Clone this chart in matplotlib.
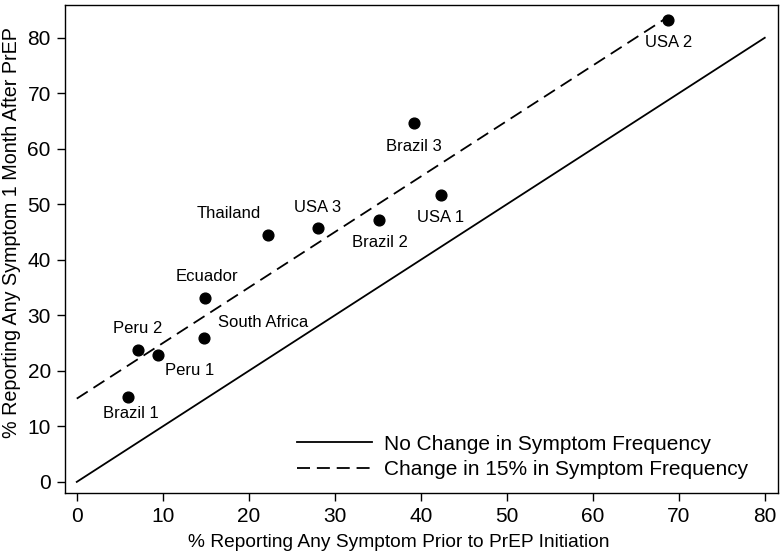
import matplotlib
matplotlib.use("Agg")
import matplotlib.pyplot as plt
import numpy as np

plt.rcParams['font.family'] = ['Liberation Sans', 'DejaVu Sans']

sites = ["Brazil 1", "Peru 2", "Peru 1", "South Africa", "Ecuador", "Thailand",
         "USA 3", "Brazil 2", "USA 1", "Brazil 3", "USA 2"]
prior = [6.0, 7.1, 9.4, 14.8, 14.9, 22.2, 28.0, 35.2, 42.3, 39.2, 68.8]
after = [15.3, 23.8, 22.8, 26.0, 33.2, 44.5, 45.7, 47.2, 51.6, 64.6, 83.2]
# label offsets in pixels (dx, dy)
offsets = [(2, -17), (0, 21), (32, -15), (59, 15), (2, 21), (-39, 21),
           (0, 21), (0, -23), (0, -22), (0, -23), (0, -22)]

fig = plt.figure(figsize=(7.8, 5.58), dpi=100)
ax = fig.add_axes([0.083, 0.1165, 0.914, 0.8745])

ref = np.array([0, 80])
ax.plot(ref, ref, color='black', lw=1.3, label='No Change in Symptom Frequency')
dash = np.array([0, 68.8])
ax.plot(dash, dash + 15, color='black', lw=1.3, ls=(0, (7.2, 3.8)),
        label='Change in 15% in Symptom Frequency')

ax.scatter(prior, after, s=60, color='black', zorder=3)
for name, x, y, (dx, dy) in zip(sites, prior, after, offsets):
    ax.annotate(name, (x, y), xytext=(dx, dy), textcoords='offset pixels',
                ha='center', va='center', fontsize=12)

ax.set_xlim(-1.4, 81.5)
ax.set_ylim(-2, 85.9)
ax.set_xticks(range(0, 81, 10))
ax.set_yticks(range(0, 81, 10))
ax.tick_params(labelsize=15, length=6, width=1, pad=4)
ax.set_xlabel('% Reporting Any Symptom Prior to PrEP Initiation', fontsize=13.8,
              labelpad=5)
ax.xaxis.set_label_coords(0.468, -0.085)
ax.set_ylabel('% Reporting Any Symptom 1 Month After PrEP', fontsize=14.2)
ax.yaxis.set_label_coords(-0.061, 0.533)
for s in ax.spines.values():
    s.set_linewidth(1)

ax.legend(loc='lower left', bbox_to_anchor=(0.314, 0.012), frameon=False,
          fontsize=15, handlelength=3.6, handletextpad=0.6,
          labelspacing=0.3, borderaxespad=0)

fig.savefig('out.png', dpi=100)
